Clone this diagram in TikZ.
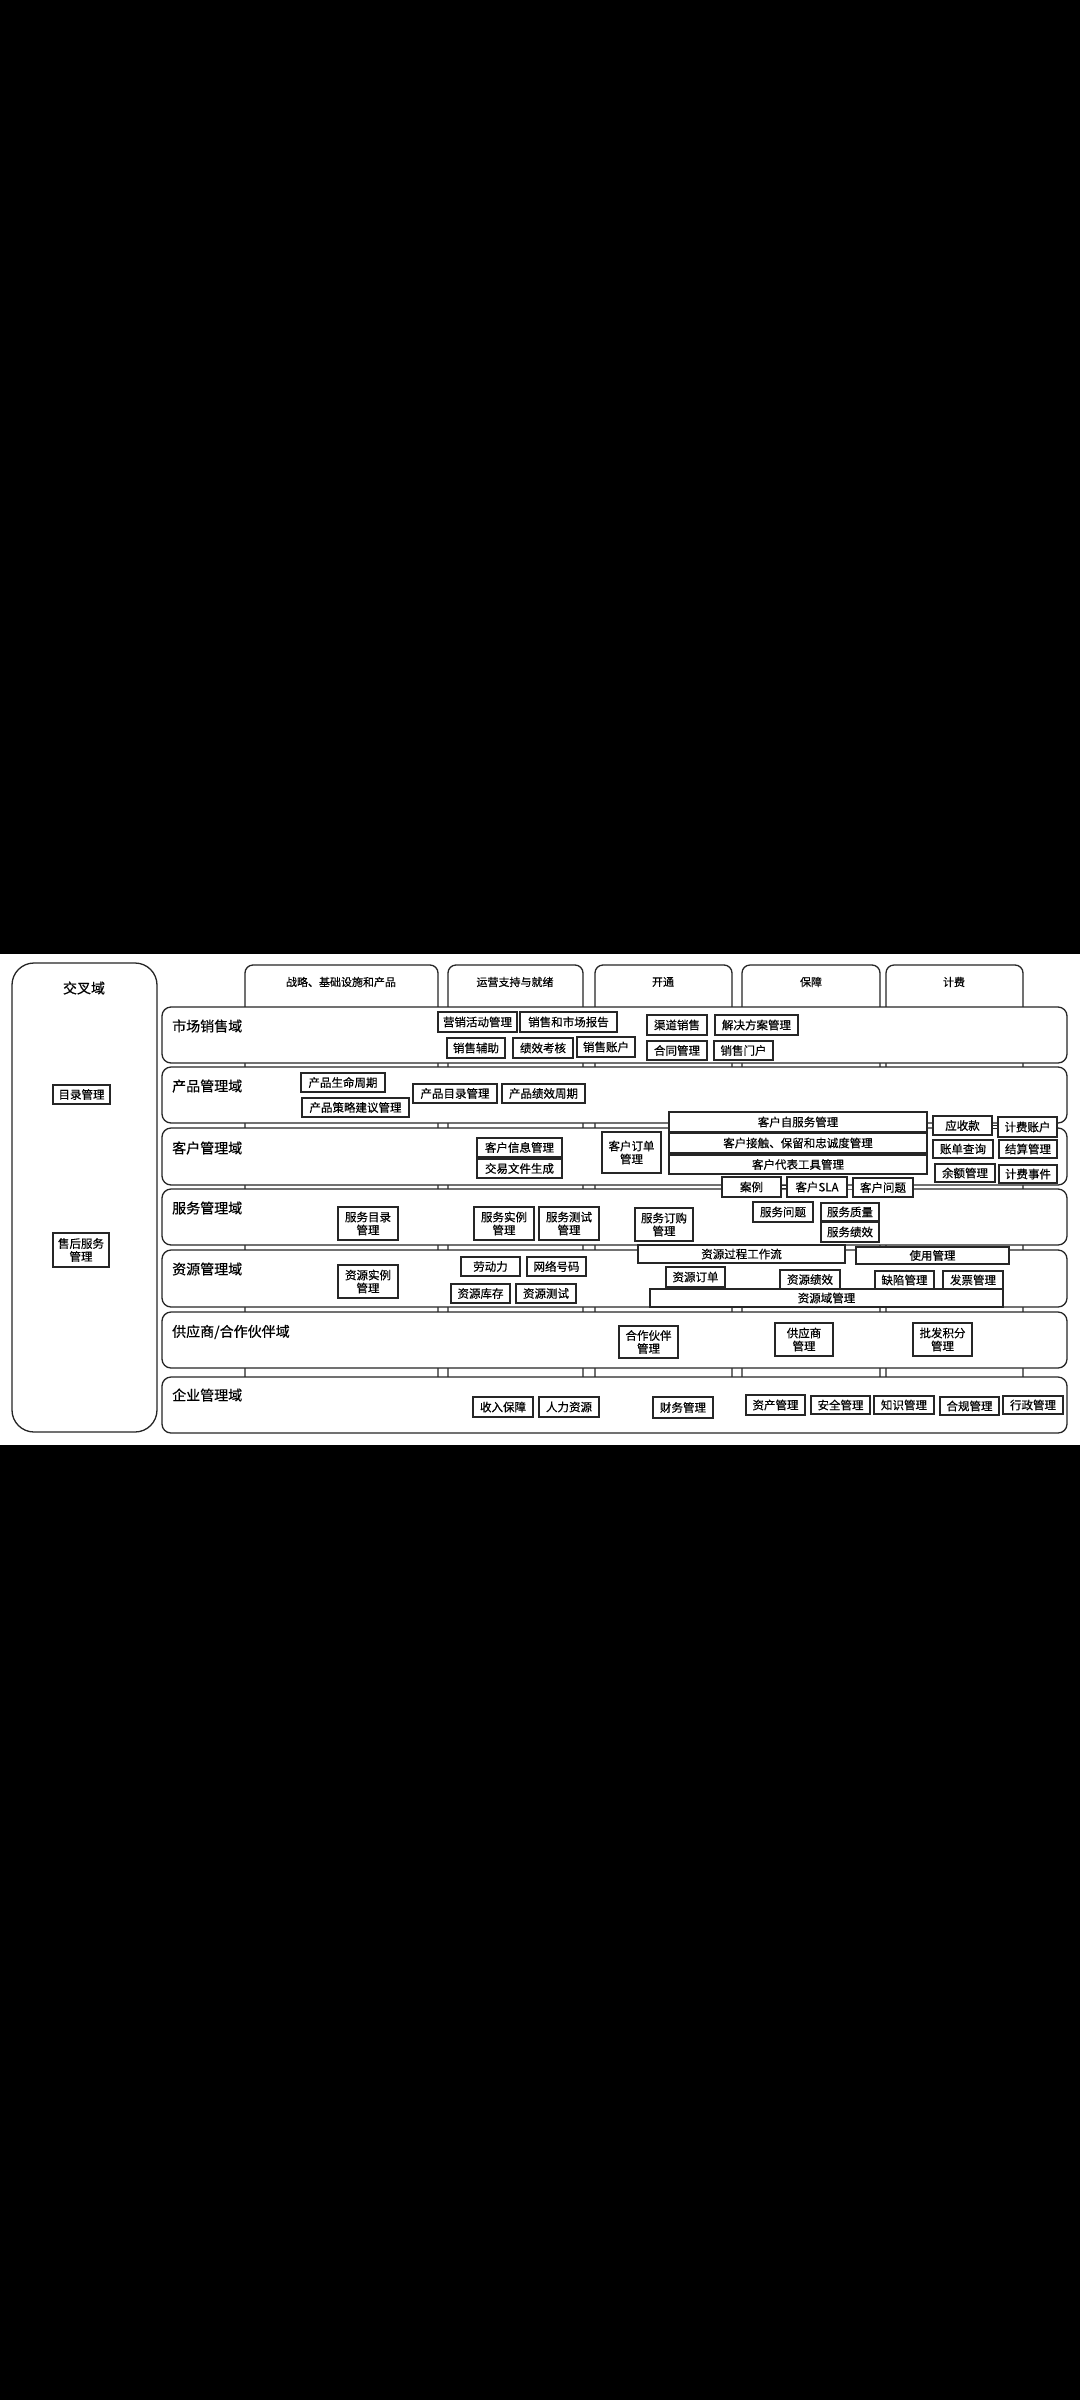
\documentclass[tikz,border=0pt]{standalone}
\usepackage{fontspec}
\setmainfont{Noto Sans CJK SC}[FakeBold=0.4]
\tikzset{
 ln/.style={draw=black!85, line width=1.3pt},
 sub/.style={ln, fill=white, rectangle, inner sep=0pt, font=\fontsize{11.5}{13}\selectfont, align=center},
 dom/.style={ln, fill=white, rectangle, rounded corners=9pt, inner sep=0pt},
 hdr/.style={ln, fill=white, rectangle, rounded corners=8pt, inner sep=0pt},
 big/.style={ln, fill=white, rectangle, rounded corners=22pt, inner sep=0pt},
 ttl/.style={font=\fontsize{14}{16}\selectfont, anchor=west, inner sep=0pt},
 hdt/.style={font=\fontsize{11}{13}\selectfont, inner sep=0pt},
 dbl/.style={draw=black!85, line width=0.7pt, double=white, double distance=2.2pt}
}
\newcommand\bx[7][sub]{\node[#1, minimum width={(#5)-(#3)}, minimum height={(#6)-(#4)}] (#2) at ({((#3)+(#5))/2},{((#4)+(#6))/2}) {#7};}
\begin{document}
\begin{tikzpicture}[x=1pt,y=-1pt]
\useasboundingbox (0,0) rectangle (1080,2400);
\fill[black] (0,0) rectangle (1080,2400);
\fill[white] (0,954) rectangle (1080,1445);
% column headers
\bx[hdr]{h1}{245}{965}{438}{1430}{}
\bx[hdr]{h2}{448}{965}{583}{1430}{}
\bx[hdr]{h3}{595}{965}{732}{1430}{}
\bx[hdr]{h4}{742}{965}{880}{1430}{}
\bx[hdr]{h5}{886}{965}{1023}{1430}{}
\node[hdt] (h1t) at (341,982) {战略、基础设施和产品};
\node[hdt] (h2t) at (515,982) {运营支持与就绪};
\node[hdt] (h3t) at (663,982) {开通};
\node[hdt] (h4t) at (811,982) {保障};
\node[hdt] (h5t) at (954,982) {计费};
% cross domain
\bx[big]{cross}{12}{963}{157}{1432}{}
\node[font=\fontsize{14}{16}\selectfont, inner sep=0pt] (crosst) at (84,988) {交叉域};
\bx{mlgl}{53}{1085}{110}{1104}{目录管理}
\bx{shfw}{53}{1233}{109}{1267}{售后服务\\管理}
% domain rows
\bx[dom]{r1}{162}{1007}{1067}{1063}{}
\bx[dom]{r2}{162}{1067}{1067}{1123}{}
\bx[dom]{r3}{162}{1128}{1067}{1185}{}
\bx[dom]{r4}{162}{1189}{1067}{1245}{}
\bx[dom]{r5}{162}{1250}{1067}{1307}{}
\bx[dom]{r6}{162}{1312}{1067}{1368}{}
\bx[dom]{r7}{162}{1377}{1067}{1433}{}
\node[ttl] (t1) at (172,1026) {市场销售域};
\node[ttl] (t2) at (172,1086) {产品管理域};
\node[ttl] (t3) at (172,1148) {客户管理域};
\node[ttl] (t4) at (172,1208) {服务管理域};
\node[ttl] (t5) at (172,1269) {资源管理域};
\node[ttl] (t6) at (172,1332) {供应商/合作伙伴域};
\node[ttl] (t7) at (172,1395) {企业管理域};
% row 1
\bx{yxhd}{438}{1012}{517}{1032}{营销活动管理}
\bx{xsbg}{520}{1012}{617}{1032}{销售和市场报告}
\bx{xsfz}{447}{1038}{505}{1058}{销售辅助}
\bx{jxkh}{513}{1038}{573}{1058}{绩效考核}
\bx{xszh}{577}{1037}{635}{1057}{销售账户}
\bx{qdxs}{647}{1015}{707}{1035}{渠道销售}
\bx{jjfa}{715}{1015}{798}{1035}{解决方案管理}
\bx{htgl}{647}{1041}{707}{1060}{合同管理}
\bx{xsmh}{714}{1041}{773}{1060}{销售门户}
% row 2
\bx{cpsm}{301}{1073}{385}{1092}{产品生命周期}
\bx{cpcl}{302}{1098}{409}{1117}{产品策略建议管理}
\bx{cpml}{413}{1084}{497}{1103}{产品目录管理}
\bx{cpjx}{502}{1084}{585}{1103}{产品绩效周期}
% row 3
\bx{khxx}{477}{1138}{562}{1157}{客户信息管理}
\bx{jywj}{477}{1159}{562}{1178}{交易文件生成}
\bx{khdd}{602}{1132}{661}{1173}{客户订单\\管理}
\bx{zfw}{669}{1112}{927}{1132}{客户自服务管理}
\bx{khjc}{669}{1133}{927}{1153}{客户接触、保留和忠诚度管理}
\bx{khdb}{669}{1155}{927}{1174}{客户代表工具管理}
\bx{ysk}{933}{1116}{992}{1135}{应收款}
\bx{jfzh}{998}{1117}{1057}{1137}{计费账户}
\bx{zdcx}{933}{1140}{993}{1158}{账单查询}
\bx{jsgl}{999}{1140}{1057}{1158}{结算管理}
\bx{yegl}{935}{1164}{995}{1182}{余额管理}
\bx{jfsj}{999}{1165}{1057}{1183}{计费事件}
\bx{al}{722}{1177}{781}{1197}{案例}
\bx{sla}{787}{1177}{847}{1197}{客户SLA}
\bx{khwt}{853}{1178}{913}{1197}{客户问题}
\bx{fwwt}{753}{1202}{813}{1222}{服务问题}
\bx{fwzl}{821}{1203}{879}{1221}{服务质量}
\bx{fwjx}{821}{1222}{879}{1242}{服务绩效}
% row 4
\bx{fwml}{338}{1207}{398}{1240}{服务目录\\管理}
\bx{fwsl}{474}{1207}{534}{1240}{服务实例\\管理}
\bx{fwcs}{539}{1207}{599}{1240}{服务测试\\管理}
\bx{fwdg}{635}{1208}{693}{1241}{服务订购\\管理}
% row 5
\bx{zygc}{638}{1245}{845}{1263}{资源过程工作流}
\bx{sygl}{856}{1247}{1009}{1264}{使用管理}
\bx{ldl}{461}{1257}{520}{1276}{劳动力}
\bx{wlhm}{527}{1257}{586}{1276}{网络号码}
\bx{zykc}{451}{1284}{510}{1303}{资源库存}
\bx{zycs}{516}{1284}{576}{1303}{资源测试}
\bx{zysl}{338}{1265}{398}{1298}{资源实例\\管理}
\bx{zydd}{666}{1267}{725}{1287}{资源订单}
\bx{zyjx}{780}{1270}{840}{1289}{资源绩效}
\bx{qxgl}{875}{1271}{934}{1289}{缺陷管理}
\bx{fpgl}{943}{1271}{1003}{1289}{发票管理}
\bx{zyy}{650}{1289}{1003}{1307}{资源域管理}
% row 6
\bx{hzhb}{619}{1326}{678}{1358}{合作伙伴\\管理}
\bx{gys}{775}{1323}{833}{1356}{供应商\\管理}
\bx{pfjf}{913}{1323}{972}{1356}{批发积分\\管理}
% row 7
\bx{srbz}{473}{1397}{533}{1417}{收入保障}
\bx{rlzy}{539}{1397}{599}{1417}{人力资源}
\bx{cwgl}{653}{1397}{713}{1418}{财务管理}
\bx{zcgl}{746}{1395}{805}{1415}{资产管理}
\bx{aqgl}{811}{1396}{870}{1414}{安全管理}
\bx{zsgl}{874}{1396}{934}{1414}{知识管理}
\bx{hggl}{940}{1397}{999}{1415}{合规管理}
\bx{xzgl}{1003}{1396}{1063}{1414}{行政管理}
% small double connectors
\draw[dbl] (ysk.west) -- (ysk.west -| zfw.east);
\draw[dbl] (jfzh.west) -- (jfzh.west -| ysk.east);
\draw[dbl] (sla.west) -- (sla.west -| al.east);
\draw[dbl] (khwt.west) -- (khwt.west -| sla.east);
\end{tikzpicture}
\end{document}
